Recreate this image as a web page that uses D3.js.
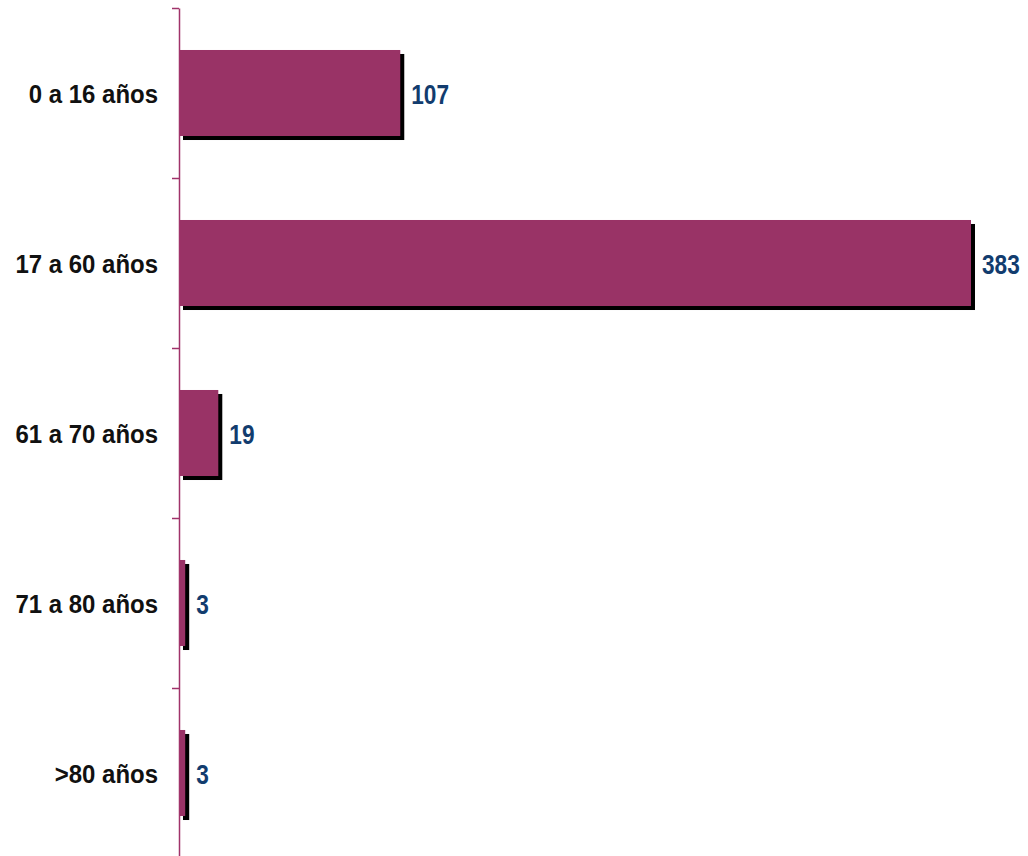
<!DOCTYPE html>
<html>
<head>
<meta charset="utf-8">
<script src="https://cdn.jsdelivr.net/npm/d3@7"></script>
<style>
  html, body { margin: 0; padding: 0; background: #fff; }
  svg { display: block; }
</style>
</head>
<body>
<svg id="chart" width="1028" height="856"></svg>
<script>
const categories = ["0 a 16 años", "17 a 60 años", "61 a 70 años", "71 a 80 años", ">80 años"];
const values = [107, 383, 19, 3, 3];

(function () {
const plotLeft = 179, plotRight = 971, plotTop = 8, plotBottom = 858;
const barColor = "#993366";
const axisColor = "#a0336a";
const valueColor = "#123c6e";

const svg = d3.select("#chart");

const y = d3.scaleBand()
  .domain(categories)
  .range([plotTop, plotBottom])
  .paddingInner(0.494)
  .paddingOuter(0.247);

const x = d3.scaleLinear()
  .domain([0, d3.max(values)])
  .range([plotLeft, plotRight]);

const data = categories.map((c, i) => ({ c, v: values[i] }));

// shadows
svg.append("g").selectAll("rect")
  .data(data).join("rect")
  .attr("x", plotLeft + 4)
  .attr("y", d => y(d.c) + 4)
  .attr("width", d => x(d.v) - plotLeft)
  .attr("height", y.bandwidth())
  .attr("fill", "#000");

// bars
svg.append("g").selectAll("rect")
  .data(data).join("rect")
  .attr("x", plotLeft)
  .attr("y", d => y(d.c))
  .attr("width", d => x(d.v) - plotLeft)
  .attr("height", y.bandwidth())
  .attr("fill", barColor);

// axis with ticks at band boundaries
const edge = d3.scaleLinear().domain([0, categories.length]).range([plotTop, plotBottom]);
const axis = svg.append("g")
  .attr("transform", `translate(${plotLeft},0)`)
  .call(d3.axisLeft(edge).ticks(categories.length).tickSize(7).tickSizeOuter(0).tickFormat(""));
axis.select(".domain").attr("stroke", axisColor).attr("stroke-width", 1.5);
axis.selectAll(".tick line").attr("stroke", axisColor).attr("stroke-width", 1.5);

// category labels
svg.append("g").selectAll("text")
  .data(data).join("text")
  .attr("transform", d => `translate(158,${y(d.c) + y.bandwidth() / 2 + 10}) scale(0.94,1)`)
  .attr("text-anchor", "end")
  .attr("font-family", "'Liberation Sans', Arial, sans-serif")
  .attr("font-weight", "bold")
  .attr("font-size", 25.5)
  .attr("fill", "#111")
  .text(d => d.c);

// value labels
svg.append("g").selectAll("text")
  .data(data).join("text")
  .attr("transform", d => `translate(${x(d.v) + 11},${y(d.c) + y.bandwidth() / 2 + 11}) scale(0.84,1)`)
  .attr("text-anchor", "start")
  .attr("font-family", "'Liberation Sans', Arial, sans-serif")
  .attr("font-weight", "bold")
  .attr("font-size", 27)
  .attr("fill", valueColor)
  .text(d => d.v);
})();
</script>
</body>
</html>
